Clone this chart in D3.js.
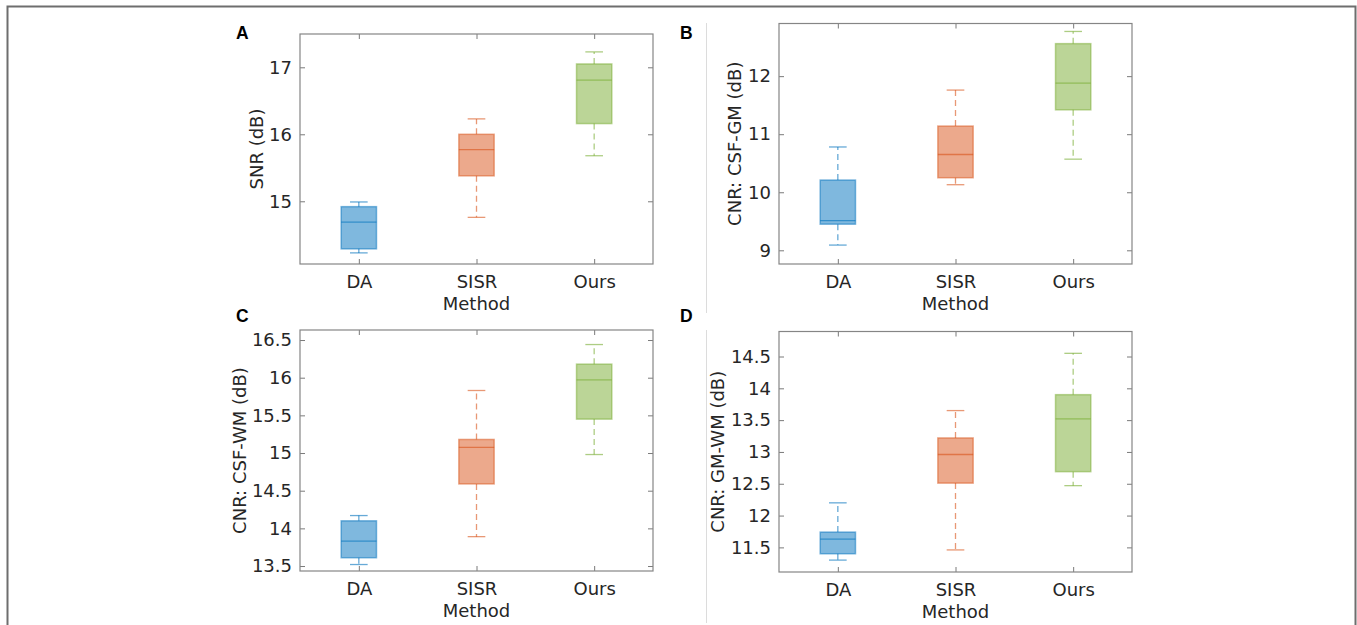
<!DOCTYPE html>
<html>
<head>
<meta charset="utf-8">
<script src="https://cdn.jsdelivr.net/npm/d3@7"></script>
<style>
  body { margin: 0; background: #fff; }
  svg { display: block; }
  text { font-family: "DejaVu Sans", sans-serif; fill: #262626; }
</style>
</head>
<body>
<svg id="chart"></svg>
<script>
// categories and colours
const methods = ["DA", "SISR", "Ours"];
const colors = ["#0072BD", "#D95319", "#77AC30"];
const panelLetters = ["A", "B", "C", "D"];
const yLabels = ["SNR (dB)", "CNR: CSF-GM (dB)", "CNR: CSF-WM (dB)", "CNR: GM-WM (dB)"];

// y limits and ticks per panel
const yLimits = [[14.064, 17.497], [8.764, 12.907], [13.434, 16.633], [11.113, 14.893]];
const yTicks = [
  [15, 16, 17],
  [9, 10, 11, 12],
  [13.5, 14, 14.5, 15, 15.5, 16, 16.5],
  [11.5, 12, 12.5, 13, 13.5, 14, 14.5]
];

// box stats [whisker low, q1, median, q3, whisker high] per method
const snrStats = [
  [14.23, 14.29, 14.69, 14.92, 14.99],
  [14.76, 15.38, 15.77, 16.0, 16.23],
  [15.68, 16.16, 16.81, 17.05, 17.23]
];
const csfGmStats = [
  [9.09, 9.45, 9.51, 10.21, 10.78],
  [10.13, 10.25, 10.65, 11.14, 11.76],
  [10.57, 11.42, 11.88, 12.56, 12.77]
];
const csfWmStats = [
  [13.52, 13.61, 13.83, 14.10, 14.17],
  [13.89, 14.59, 15.075, 15.18, 15.83],
  [14.98, 15.45, 15.97, 16.18, 16.44]
];
const gmWmStats = [
  [11.30, 11.40, 11.63, 11.74, 12.20],
  [11.46, 12.51, 12.96, 13.22, 13.65],
  [12.47, 12.69, 13.52, 13.90, 14.55]
];
const allStats = [snrStats, csfGmStats, csfWmStats, gmWmStats];

const width = 1357, height = 625;
const svg = d3.select("#chart").attr("width", width).attr("height", height);

// outer frame
svg.append("path")
  .attr("d", `M7.5,${height + 2}V6.5H1355.5V${height + 2}`)
  .attr("fill", "none").attr("stroke", "#6e6e6e").attr("stroke-width", 2);

// light separators between columns
svg.append("line").attr("x1", 706.5).attr("x2", 706.5).attr("y1", 23).attr("y2", 313)
  .attr("stroke", "#dcdcdc");
svg.append("line").attr("x1", 706.5).attr("x2", 706.5).attr("y1", 330).attr("y2", 623)
  .attr("stroke", "#dcdcdc");

// axes rectangles for each panel
const frames = [
  { x0: 300, x1: 653, y0: 34, y1: 264, lx: 236, ly: 39, tx: 257 },
  { x0: 779, x1: 1132, y0: 23.5, y1: 264, lx: 680, ly: 39, tx: 735 },
  { x0: 300, x1: 653, y0: 330, y1: 571, lx: 236, ly: 322, tx: 239.5 },
  { x0: 779, x1: 1132, y0: 331.5, y1: 572, lx: 680, ly: 322, tx: 717.5 }
];

const fmt = d3.format("~g");

frames.forEach(function (f, i) {
  const g = svg.append("g");
  const x = d3.scalePoint().domain(methods).range([f.x0, f.x1]).padding(0.5);
  const y = d3.scaleLinear().domain(yLimits[i]).range([f.y1, f.y0]);
  const bw = x.step() * 0.3;

  // ticks (inward) on all four sides
  g.append("g").attr("transform", `translate(${f.x0},0)`)
    .call(d3.axisLeft(y).tickValues(yTicks[i]).tickFormat(fmt).tickSize(-5).tickPadding(8));
  g.append("g").attr("transform", `translate(${f.x1},0)`)
    .call(d3.axisRight(y).tickValues(yTicks[i]).tickSize(-5).tickFormat(""));
  g.append("g").attr("transform", `translate(0,${f.y1})`)
    .call(d3.axisBottom(x).tickSize(-5).tickPadding(11));
  g.append("g").attr("transform", `translate(0,${f.y0})`)
    .call(d3.axisTop(x).tickSize(-5).tickFormat(""));
  g.selectAll(".domain").remove();
  g.selectAll(".tick line").attr("stroke", "#7a7a7a");
  g.selectAll(".tick text").attr("font-size", 18).attr("fill", "#262626");

  g.append("rect")
    .attr("x", f.x0).attr("y", f.y0)
    .attr("width", f.x1 - f.x0).attr("height", f.y1 - f.y0)
    .attr("fill", "none").attr("stroke", "#858585").attr("stroke-width", 1.2);

  // boxes
  allStats[i].forEach(function (s, j) {
    const cx = x(methods[j]);
    const c = colors[j];
    const bg = g.append("g");
    // dashed whiskers
    [[s[3], s[4]], [s[1], s[0]]].forEach(function (w) {
      bg.append("line").attr("x1", cx).attr("x2", cx).attr("y1", y(w[0])).attr("y2", y(w[1]))
        .attr("stroke", c).attr("stroke-opacity", 0.6).attr("stroke-dasharray", "6,4").attr("stroke-width", 1.3);
    });
    // caps
    [s[0], s[4]].forEach(function (v) {
      bg.append("line").attr("x1", cx - bw / 4).attr("x2", cx + bw / 4).attr("y1", y(v)).attr("y2", y(v))
        .attr("stroke", c).attr("stroke-opacity", 0.6).attr("stroke-width", 1.3);
    });
    bg.append("rect")
      .attr("x", cx - bw / 2).attr("y", y(s[3]))
      .attr("width", bw).attr("height", y(s[1]) - y(s[3]))
      .attr("fill", c).attr("fill-opacity", 0.5)
      .attr("stroke", c).attr("stroke-opacity", 0.5).attr("stroke-width", 1.5);
    bg.append("line").attr("x1", cx - bw / 2).attr("x2", cx + bw / 2)
      .attr("y1", y(s[2])).attr("y2", y(s[2]))
      .attr("stroke", c).attr("stroke-opacity", 0.6).attr("stroke-width", 1.3);
  });

  // axis titles
  g.append("text")
    .attr("x", (f.x0 + f.x1) / 2).attr("y", f.y1 + 45.5)
    .attr("text-anchor", "middle").attr("font-size", 18)
    .text("Method");
  g.append("text")
    .attr("transform", `translate(${f.tx},${(f.y0 + f.y1) / 2}) rotate(-90)`)
    .attr("text-anchor", "middle").attr("dy", "0.36em").attr("font-size", 18)
    .text(yLabels[i]);

  // panel letter
  g.append("text")
    .attr("x", f.lx).attr("y", f.ly)
    .style("font-family", "Liberation Sans, Arial, sans-serif")
    .attr("font-weight", "bold").attr("font-size", 17.5)
    .style("fill", "#000")
    .text(panelLetters[i]);
});
</script>
</body>
</html>
